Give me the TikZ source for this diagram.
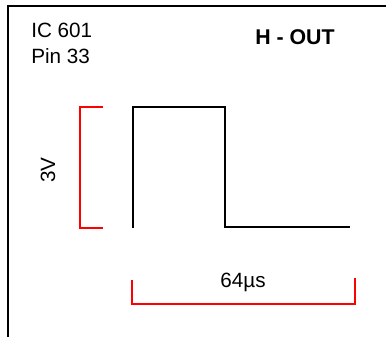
\documentclass[tikz,border=0pt]{standalone}
\usepackage{fontspec}
\setmainfont{Liberation Sans}
\usetikzlibrary{positioning}

\begin{document}
\begin{tikzpicture}[
  x=0.75pt, y=-0.75pt,
  caption/.style={font=\fontsize{15.5}{18}\selectfont, inner sep=0pt},
  bracket/.style={draw=red, line width=1.4pt},
  signal/.style={draw=black, line width=1.5pt}
]
\useasboundingbox (0,0) rectangle (386,336);
\draw[line width=1.1pt] (8,6) rectangle (400,350);

\node[caption, anchor=base west] (ic) at (31,37) {IC 601};
\node[caption, anchor=base west] (pin) at (31,63) {Pin 33};
\node[caption, font=\fontsize{16}{19}\selectfont\bfseries, anchor=base west] (title) at (255,44) {H - OUT};

% pulse
\coordinate (p0) at (133,228);
\coordinate (p1) at (133,107);
\coordinate (p2) at (225,107);
\coordinate (p3) at (225,227);
\coordinate (p4) at (350,227);
\draw[signal] (p0) -- (p1) -- (p2) -- (p3) -- (p4);

% amplitude
\draw[bracket] (103,107) -- (80,107) -- (80,228) -- (103,228);
\node[caption, rotate=90] (volt) at (48,170) {3V};

% period
\draw[bracket] (132,280) -- (132,304) -- (355,304) -- (355,278);
\node[caption, anchor=base] (period) at (243,287) {64µs};
\end{tikzpicture}
\end{document}
